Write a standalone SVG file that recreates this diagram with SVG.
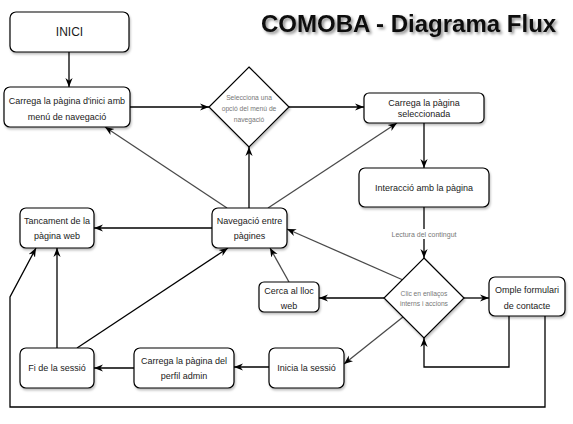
<svg xmlns="http://www.w3.org/2000/svg" width="573" height="424" viewBox="0 0 573 424">
<defs>
<style>
.box{fill:#fff;stroke:#000;stroke-width:1.2;filter:url(#sh)}
.t{font-family:"Liberation Sans",Arial,sans-serif;font-size:9px;fill:#1a1a1a;text-anchor:middle}
.dt{font-family:"Liberation Sans",Arial,sans-serif;font-size:6.7px;fill:#777;text-anchor:middle}
.e{fill:none;stroke:#000;stroke-width:1.3;marker-end:url(#ar)}
.g{fill:none;stroke:#4a4a4a;stroke-width:1.3;marker-end:url(#ar)}
</style>
<filter id="sh" x="-20%" y="-20%" width="140%" height="150%">
<feDropShadow dx="1" dy="2" stdDeviation="1" flood-color="#000" flood-opacity="0.25"/>
</filter>
<filter id="tsh" x="-10%" y="-30%" width="120%" height="170%">
<feDropShadow dx="2" dy="2" stdDeviation="1.5" flood-color="#000" flood-opacity="0.45"/>
</filter>
<marker id="ar" viewBox="0 0 10 10" refX="10" refY="5" markerWidth="9" markerHeight="9" markerUnits="userSpaceOnUse" orient="auto">
<path d="M0,1 L10,5 L0,9 L3,5 z" fill="#000"/>
</marker>
</defs>
<rect width="573" height="424" fill="#fff"/>
<text x="261" y="32" font-family="Liberation Sans,Arial,sans-serif" font-size="24" font-weight="bold" fill="#111" filter="url(#tsh)">COMOBA - Diagrama Flux</text>

<g id="connectors">
<path class="e" d="M69,52 V87"/>
<path class="e" d="M130,107 H209"/>
<path class="e" d="M289,107 H364"/>
<path class="e" d="M424,123 V168"/>
<path class="e" d="M424,207 V258"/>
<path class="e" d="M464,298 H489"/>
<path class="e" d="M509,316 V367 H424 V338"/>
<path class="e" d="M545,316 V407 H10 V297 L36,248"/>
<path class="e" d="M384,298 H319"/>
<path class="g" d="M403,280 L287,229"/>
<path class="g" d="M289,282 L270,248"/>
<path class="g" d="M403,317 L344,364"/>
<path class="e" d="M269,367 H234"/>
<path class="e" d="M134,368 H94"/>
<path class="e" d="M57,348 V248"/>
<path class="e" d="M77,348 L228,248"/>
<path class="e" d="M212,228 H94"/>
<path class="e" d="M249,208 V147"/>
<path class="g" d="M227,208 L105,127"/>
<path class="g" d="M268,208 L397,123"/>
<rect x="390" y="229" width="68" height="10" fill="#fff"/>
<text class="dt" x="424" y="236.5" style="font-size:7px">Lectura del contingut</text>
</g>

<g id="inici"><rect class="box" x="10" y="12" width="119" height="40" rx="6"/><text class="t" x="69.5" y="36.3" style="font-size:12px">INICI</text></g>
<g id="home"><rect class="box" x="4" y="87" width="126" height="40" rx="6"/><text class="t" x="67" y="104">Carrega la pàgina d'inici amb</text><text class="t" x="67" y="120">menú de navegació</text></g>
<g id="menu"><polygon points="249,67 289,107 249,147 209,107" fill="#fff" stroke="#000" stroke-width="1.2" filter="url(#sh)"/><text class="dt" x="249" y="99.5">Selecciona una</text><text class="dt" x="249" y="110.5">opció del menú de</text><text class="dt" x="249" y="121.5">navegació</text></g>
<g id="sel"><rect class="box" x="364" y="93" width="120" height="30" rx="5"/><text class="t" x="424" y="106">Carrega la pàgina</text><text class="t" x="424" y="116.5">seleccionada</text></g>
<g id="inter"><rect class="box" x="359" y="168" width="130" height="39" rx="6"/><text class="t" x="424" y="191">Interacció amb la pàgina</text></g>
<g id="click"><polygon points="424,258 464,298 424,338 384,298" fill="#fff" stroke="#000" stroke-width="1.2" filter="url(#sh)"/><text class="dt" x="424" y="295.5">Clic en enllaços</text><text class="dt" x="424" y="306">interns i accions</text></g>
<g id="form"><rect class="box" x="489" y="277" width="76" height="39" rx="6"/><text class="t" x="527" y="293">Omple formulari</text><text class="t" x="527" y="309">de contacte</text></g>
<g id="nav"><rect class="box" x="212" y="208" width="75" height="40" rx="6"/><text class="t" x="249.5" y="224">Navegació entre</text><text class="t" x="249.5" y="239">pàgines</text></g>
<g id="close"><rect class="box" x="20" y="208" width="74" height="40" rx="6"/><text class="t" x="57" y="224">Tancament de la</text><text class="t" x="57" y="239">pàgina web</text></g>
<g id="search"><rect class="box" x="259" y="282" width="60" height="30" rx="5"/><text class="t" x="289" y="293.5">Cerca al lloc</text><text class="t" x="289" y="309">web</text></g>
<g id="login"><rect class="box" x="269" y="348" width="75" height="40" rx="6"/><text class="t" x="306.5" y="371">Inicia la sessió</text></g>
<g id="admin"><rect class="box" x="134" y="348" width="100" height="40" rx="6"/><text class="t" x="184" y="364">Carrega la pàgina del</text><text class="t" x="184" y="379">perfil admin</text></g>
<g id="end"><rect class="box" x="20" y="348" width="74" height="40" rx="6"/><text class="t" x="57" y="371">Fi de la sessió</text></g>
</svg>
